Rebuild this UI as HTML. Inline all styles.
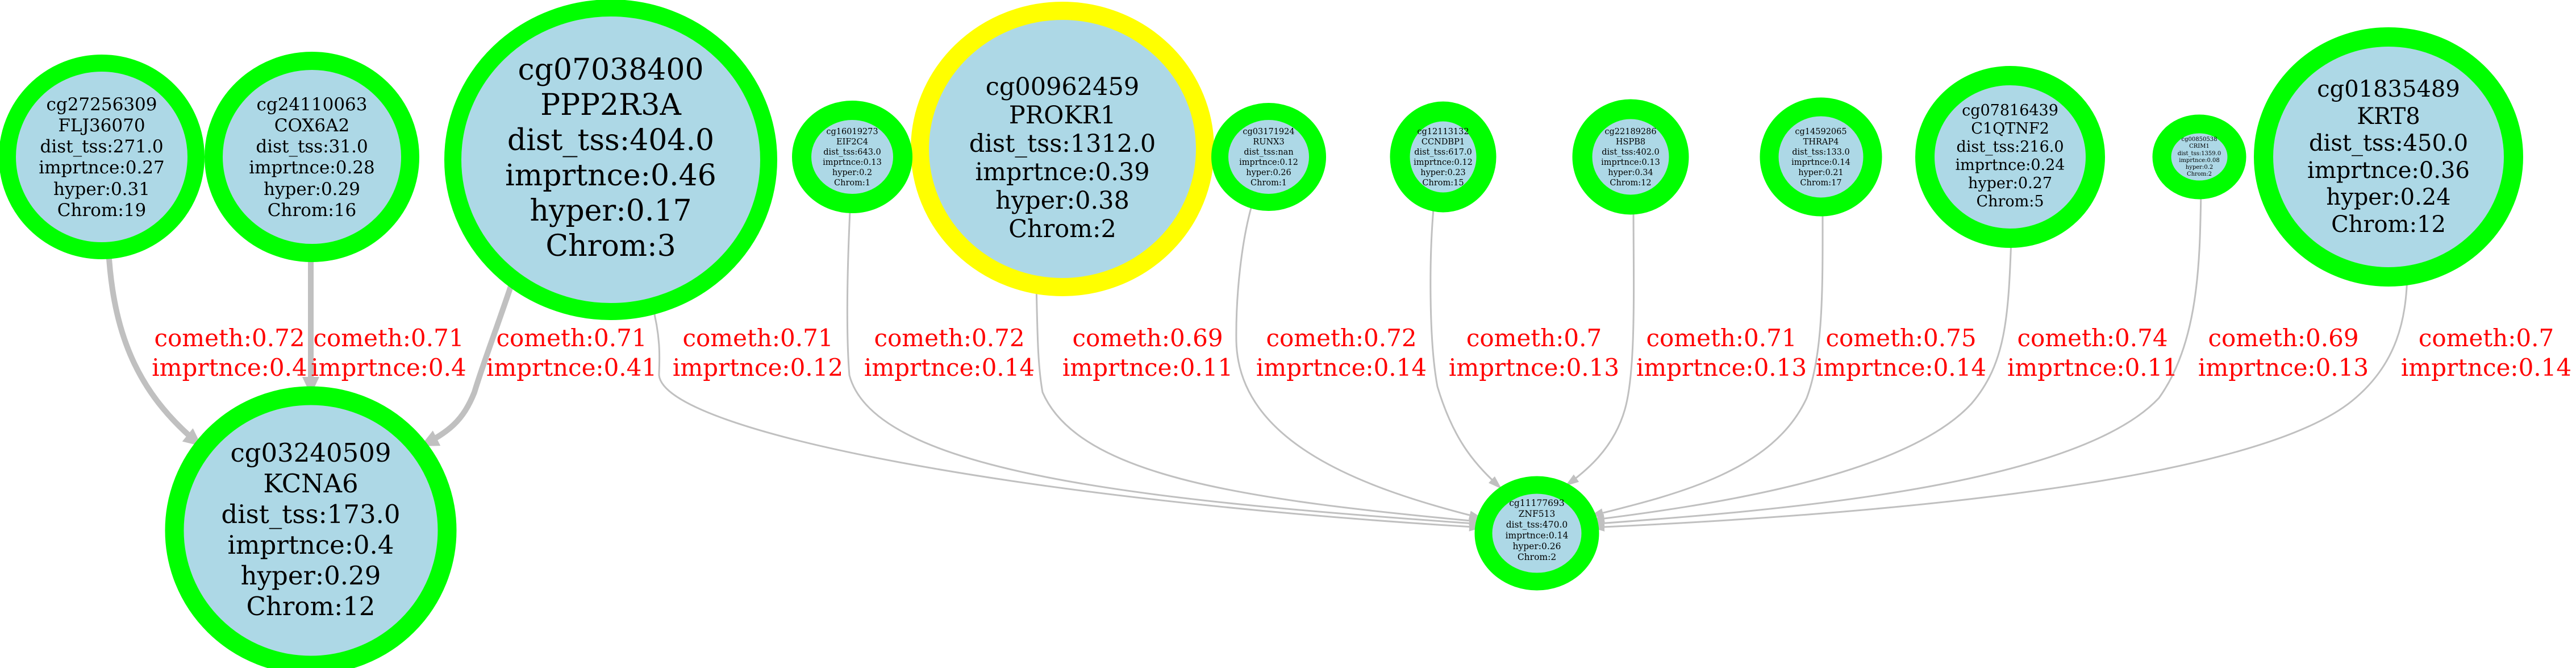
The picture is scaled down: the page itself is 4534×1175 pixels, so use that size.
<!DOCTYPE html>
<html><head><meta charset="utf-8"><style>
html,body{margin:0;padding:0;background:#fff;}
svg{display:block;}
text{font-family:"DejaVu Serif","Liberation Serif",serif;text-anchor:middle;fill:#000;}
.lbl{fill:#ff0000;font-size:42px;}
.e{fill:none;stroke:#c0c0c0;stroke-width:3;}
.et{fill:none;stroke:#c0c0c0;stroke-width:10;}
.n{fill:#add8e6;stroke:#00ff00;}
</style></head><body>
<svg width="4534" height="1175" viewBox="0 0 4534 1175" xmlns="http://www.w3.org/2000/svg">
<defs>
<marker id="at" markerUnits="userSpaceOnUse" markerWidth="36" markerHeight="32" refX="32" refY="15" orient="auto"><path d="M0,0 L32,15 L0,30 z" fill="#c0c0c0"/></marker>
<marker id="an" markerUnits="userSpaceOnUse" markerWidth="26" markerHeight="18" refX="24" refY="8" orient="auto"><path d="M0,0 L24,8 L0,16 z" fill="#c0c0c0"/></marker>
</defs>
<rect width="4534" height="1175" fill="#fff"/>

<!-- thin edges -->
<path class="e" marker-end="url(#an)" d="M1148,537 C1165,600 1160,640 1160,660 C1170,760 1800,880 2610,928"/>
<path class="e" marker-end="url(#an)" d="M1496,372 C1490,500 1490,600 1495,660 C1540,830 2000,880 2610,922"/>
<path class="e" marker-end="url(#an)" d="M1824,500 C1826,580 1826,640 1835,690 C1900,840 2200,880 2610,918"/>
<path class="e" marker-end="url(#an)" d="M2206,352 C2185,420 2175,520 2176,600 C2180,780 2400,860 2610,912"/>
<path class="e" marker-end="url(#an)" d="M2524,357 C2515,450 2515,600 2530,680 C2560,780 2600,820 2643,860"/>
<path class="e" marker-end="url(#an)" d="M2875,360 C2875,500 2880,650 2860,720 C2840,790 2790,830 2755,855"/>
<path class="e" marker-end="url(#an)" d="M3208,365 C3208,500 3210,620 3180,700 C3120,830 2950,870 2798,908"/>
<path class="e" marker-end="url(#an)" d="M3540,420 C3535,560 3530,640 3470,710 C3350,840 3000,890 2800,915"/>
<path class="e" marker-end="url(#an)" d="M3874,335 C3872,450 3872,600 3800,700 C3650,860 3100,900 2800,922"/>
<path class="e" marker-end="url(#an)" d="M4237,484 C4235,560 4220,640 4140,705 C3950,860 3200,910 2800,928"/>

<!-- thick edges -->
<path class="et" marker-end="url(#at)" d="M191,440 C200,600 250,700 355,785"/>
<path class="et" marker-end="url(#at)" d="M547,445 L547,695"/>
<path class="et" marker-end="url(#at)" d="M903,492 C870,590 850,640 835,690 C815,740 790,760 740,785"/>

<!-- nodes -->
<ellipse class="n" cx="179" cy="276" rx="166" ry="165" stroke-width="30"/>
<ellipse class="n" cx="549" cy="276" rx="173" ry="169" stroke-width="32"/>
<ellipse class="n" cx="1075" cy="281" rx="278" ry="267" stroke-width="30"/>
<ellipse class="n" cx="1870" cy="262" rx="251" ry="243" stroke-width="32" style="stroke:#ffff00"/>
<ellipse class="n" cx="1500" cy="276" rx="89" ry="82" stroke-width="34"/>
<ellipse class="n" cx="2233" cy="276" rx="86" ry="80" stroke-width="30"/>
<ellipse class="n" cx="2540" cy="276" rx="76" ry="80" stroke-width="35"/>
<ellipse class="n" cx="2870" cy="276" rx="85" ry="84" stroke-width="35"/>
<ellipse class="n" cx="3205" cy="276" rx="91" ry="88" stroke-width="33"/>
<ellipse class="n" cx="3538" cy="276" rx="150" ry="143" stroke-width="34"/>
<ellipse class="n" cx="3871" cy="276" rx="66" ry="58" stroke-width="33"/>
<ellipse class="n" cx="4204" cy="276" rx="220" ry="211" stroke-width="34"/>
<ellipse class="n" cx="547" cy="933" rx="240" ry="237" stroke-width="33"/>
<ellipse class="n" cx="2705" cy="938" rx="94" ry="85" stroke-width="31"/>

<!-- node texts -->
<g font-size="31">
<text x="179" y="194">cg27256309</text><text x="179" y="231">FLJ36070</text><text x="179" y="268">dist_tss:271.0</text><text x="179" y="305">imprtnce:0.27</text><text x="179" y="343">hyper:0.31</text><text x="179" y="380">Chrom:19</text>
<text x="549" y="194">cg24110063</text><text x="549" y="231">COX6A2</text><text x="549" y="268">dist_tss:31.0</text><text x="549" y="305">imprtnce:0.28</text><text x="549" y="343">hyper:0.29</text><text x="549" y="380">Chrom:16</text>
</g>
<g font-size="52">
<text x="1075" y="140">cg07038400</text><text x="1075" y="202">PPP2R3A</text><text x="1075" y="264">dist_tss:404.0</text><text x="1075" y="326">imprtnce:0.46</text><text x="1075" y="388">hyper:0.17</text><text x="1075" y="450">Chrom:3</text>
</g>
<g font-size="43">
<text x="1870" y="167">cg00962459</text><text x="1870" y="217">PROKR1</text><text x="1870" y="267">dist_tss:1312.0</text><text x="1870" y="317">imprtnce:0.39</text><text x="1870" y="367">hyper:0.38</text><text x="1870" y="417">Chrom:2</text>
</g>
<g font-size="45">
<text x="547" y="812">cg03240509</text><text x="547" y="866">KCNA6</text><text x="547" y="920">dist_tss:173.0</text><text x="547" y="974">imprtnce:0.4</text><text x="547" y="1028">hyper:0.29</text><text x="547" y="1082">Chrom:12</text>
</g>
<g font-size="40">
<text x="4204" y="170">cg01835489</text><text x="4204" y="218">KRT8</text><text x="4204" y="265">dist_tss:450.0</text><text x="4204" y="313">imprtnce:0.36</text><text x="4204" y="360">hyper:0.24</text><text x="4204" y="408">Chrom:12</text>
</g>
<g font-size="27">
<text x="3538" y="203">cg07816439</text><text x="3538" y="235">C1QTNF2</text><text x="3538" y="267">dist_tss:216.0</text><text x="3538" y="299">imprtnce:0.24</text><text x="3538" y="331">hyper:0.27</text><text x="3538" y="363">Chrom:5</text>
</g>
<g font-size="10">
<text x="3871" y="248">cg00850538</text><text x="3871" y="260">CRIM1</text><text x="3871" y="273">dist_tss:1359.0</text><text x="3871" y="285">imprtnce:0.08</text><text x="3871" y="297">hyper:0.2</text><text x="3871" y="309">Chrom:2</text>
</g>
<g font-size="15.5">
<text x="2705" y="890">cg11177693</text><text x="2705" y="909">ZNF513</text><text x="2705" y="928">dist_tss:470.0</text><text x="2705" y="947">imprtnce:0.14</text><text x="2705" y="966">hyper:0.26</text><text x="2705" y="985">Chrom:2</text>
</g>
<g font-size="14.5">
<text x="1500" y="236">cg16019273</text><text x="1500" y="254">EIF2C4</text><text x="1500" y="272">dist_tss:643.0</text><text x="1500" y="290">imprtnce:0.13</text><text x="1500" y="308">hyper:0.2</text><text x="1500" y="326">Chrom:1</text>
<text x="2233" y="236">cg03171924</text><text x="2233" y="254">RUNX3</text><text x="2233" y="272">dist_tss:nan</text><text x="2233" y="290">imprtnce:0.12</text><text x="2233" y="308">hyper:0.26</text><text x="2233" y="326">Chrom:1</text>
<text x="2540" y="236">cg12113132</text><text x="2540" y="254">CCNDBP1</text><text x="2540" y="272">dist_tss:617.0</text><text x="2540" y="290">imprtnce:0.12</text><text x="2540" y="308">hyper:0.23</text><text x="2540" y="326">Chrom:15</text>
<text x="2870" y="236">cg22189286</text><text x="2870" y="254">HSPB8</text><text x="2870" y="272">dist_tss:402.0</text><text x="2870" y="290">imprtnce:0.13</text><text x="2870" y="308">hyper:0.34</text><text x="2870" y="326">Chrom:12</text>
<text x="3205" y="236">cg14592065</text><text x="3205" y="254">THRAP4</text><text x="3205" y="272">dist_tss:133.0</text><text x="3205" y="290">imprtnce:0.14</text><text x="3205" y="308">hyper:0.21</text><text x="3205" y="326">Chrom:17</text>
</g>

<!-- edge labels -->
<g class="lbl">
<text class="lbl" x="404" y="609">cometh:0.72</text><text class="lbl" x="404" y="661">imprtnce:0.4</text>
<text class="lbl" x="684" y="609">cometh:0.71</text><text class="lbl" x="684" y="661">imprtnce:0.4</text>
<text class="lbl" x="1006" y="609">cometh:0.71</text><text class="lbl" x="1006" y="661">imprtnce:0.41</text>
<text class="lbl" x="1334" y="609">cometh:0.71</text><text class="lbl" x="1334" y="661">imprtnce:0.12</text>
<text class="lbl" x="1671" y="609">cometh:0.72</text><text class="lbl" x="1671" y="661">imprtnce:0.14</text>
<text class="lbl" x="2020" y="609">cometh:0.69</text><text class="lbl" x="2020" y="661">imprtnce:0.11</text>
<text class="lbl" x="2361" y="609">cometh:0.72</text><text class="lbl" x="2361" y="661">imprtnce:0.14</text>
<text class="lbl" x="2700" y="609">cometh:0.7</text><text class="lbl" x="2700" y="661">imprtnce:0.13</text>
<text class="lbl" x="3030" y="609">cometh:0.71</text><text class="lbl" x="3030" y="661">imprtnce:0.13</text>
<text class="lbl" x="3346" y="609">cometh:0.75</text><text class="lbl" x="3346" y="661">imprtnce:0.14</text>
<text class="lbl" x="3683" y="609">cometh:0.74</text><text class="lbl" x="3683" y="661">imprtnce:0.11</text>
<text class="lbl" x="4019" y="609">cometh:0.69</text><text class="lbl" x="4019" y="661">imprtnce:0.13</text>
<text class="lbl" x="4376" y="609">cometh:0.7</text><text class="lbl" x="4376" y="661">imprtnce:0.14</text>
</g>
</svg>
</body></html>
